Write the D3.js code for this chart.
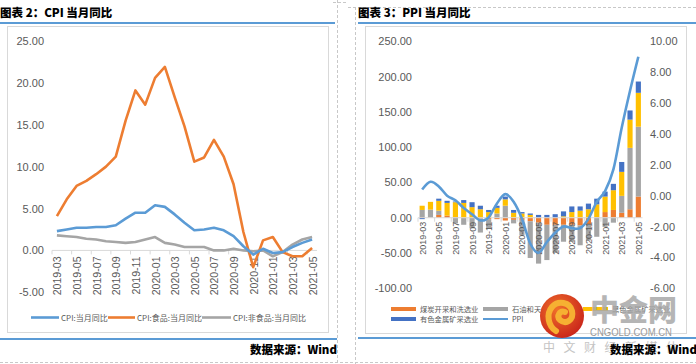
<!DOCTYPE html>
<html><head><meta charset="utf-8">
<script src="https://cdn.jsdelivr.net/npm/d3@7"></script>
<style>
body{margin:0;background:#fff;}
svg{display:block;}
</style></head><body>
<svg id="c" width="696" height="364"></svg>
<script>
// ---------- DATA ----------
const months = ["2019-03","2019-04","2019-05","2019-06","2019-07","2019-08","2019-09","2019-10","2019-11","2019-12",
  "2020-01","2020-02","2020-03","2020-04","2020-05","2020-06","2020-07","2020-08","2020-09","2020-10","2020-11","2020-12",
  "2021-01","2021-02","2021-03","2021-04","2021-05"];
const monthLabels = ["2019-03","2019-05","2019-07","2019-09","2019-11","2020-01","2020-03","2020-05","2020-07","2020-09","2020-11","2021-01","2021-03","2021-05"];
const cpiAll     = [2.3,2.5,2.7,2.7,2.8,2.8,3.0,3.8,4.5,4.5,5.4,5.2,4.3,3.3,2.4,2.5,2.7,2.4,1.7,0.5,-0.5,0.2,-0.3,-0.2,0.4,0.9,1.3];
const cpiFood    = [4.1,6.1,7.7,8.3,9.1,10.0,11.2,15.5,19.1,17.4,20.6,21.9,18.3,14.8,10.6,11.1,13.2,11.2,7.9,2.2,-2.0,1.2,1.6,-0.2,-0.7,-0.7,0.3];
const cpiNonFood = [1.8,1.7,1.6,1.4,1.3,1.1,1.0,0.9,1.0,1.3,1.6,0.9,0.7,0.4,0.4,0.4,0.0,0.0,0.2,0.0,-0.1,0.0,-0.7,-0.2,0.7,1.3,1.6];
const cpiTicks = [-5,0,5,10,15,20,25];
const cpiNames = ["CPI:当月同比","CPI:食品:当月同比","CPI:非食品:当月同比"];

const ppi        = [0.4,0.9,0.6,0.0,-0.3,-0.8,-1.2,-1.6,-1.4,-0.5,0.1,-0.4,-1.5,-3.1,-3.7,-3.0,-2.4,-2.0,-2.1,-2.1,-1.5,-0.4,0.3,1.7,4.4,6.8,9.0];
const coal       = [1,0.5,4,3,1,0,0,-1,-2,-2,-4,-3,-3,-5,-7,-10,-10,-10,-10,-11,-9,1,8,11,7,12,30];
const oilGas     = [10,11,6,0,-8,-10,-15,-20,-14,6,17,-5,-22,-52,-58,-50,-40,-24,-24,-28,-23,-27,-13,-7,24,87,99];
const ferrous    = [6,11,14,18,21,21,15,12,8,8,9,7,6,4,0,0,0,2,8,10,12,18,22,28,34,40,48];
const nonferrous = [-2,0,3,3,1,4,7,5,3,3,4,4,2,2,4,4,5,7,8,6,8,8,7,9,14,13,16];
const ppiLeftTicks  = [-100,-50,0,50,100,150,200,250];
const ppiRightTicks = [-6,-4,-2,0,2,4,6,8,10];
const ppiNames = ["煤炭开采和洗选业","石油和天然气开采业","黑色金属矿采选业","有色金属矿采选业","PPI"];

// ---------- STYLE ----------
const C_BLUE="#5B9BD5", C_ORANGE="#ED7D31", C_GRAY="#A5A5A5", C_YELLOW="#FFC000", C_DBLUE="#4472C4";
const TXT="#595959", AX="#D9D9D9";
const tickFont="'Liberation Sans', Arial, sans-serif";
const cjk="'Noto Sans CJK SC', sans-serif";
const fmt = d => d.toFixed(2);

const svg = d3.select("#c");

// page frame: dashed cell borders
const dash = svg.append("g").attr("stroke","#c8c8c8").attr("stroke-dasharray","3,2").attr("stroke-width",1);
dash.append("line").attr("x1",333).attr("x2",348).attr("y1",2.5).attr("y2",2.5);
dash.append("line").attr("x1",348).attr("x2",696).attr("y1",7.5).attr("y2",7.5);
dash.append("line").attr("x1",337.5).attr("x2",337.5).attr("y1",0).attr("y2",364);
dash.append("line").attr("x1",355.5).attr("x2",355.5).attr("y1",7).attr("y2",364);
dash.append("line").attr("x1",0).attr("x2",696).attr("y1",362.5).attr("y2",362.5);

// titles & blue rules
function header(x, x2, title){
  svg.append("text").attr("x",x).attr("y",17).attr("font-family",cjk).attr("font-weight",900)
    .attr("font-size",11.5).attr("fill","#000").text(title);
  svg.append("line").attr("x1",x).attr("x2",x2).attr("y1",23).attr("y2",23)
    .attr("stroke",C_BLUE).attr("stroke-width",2);
}
header(0,335,"图表 2：CPI 当月同比");
header(358,696,"图表 3：PPI 当月同比");
svg.append("line").attr("x1",0).attr("x2",337).attr("y1",339).attr("y2",339).attr("stroke",C_BLUE).attr("stroke-width",2);
svg.append("line").attr("x1",358).attr("x2",696).attr("y1",338).attr("y2",338).attr("stroke",C_BLUE).attr("stroke-width",2);

// chart boxes
svg.append("rect").attr("x",7.5).attr("y",26.5).attr("width",321).attr("height",306).attr("fill","none").attr("stroke",AX);
svg.append("rect").attr("x",365.5).attr("y",26.5).attr("width",321).attr("height",307).attr("fill","none").attr("stroke",AX);

// ---------- LEFT: CPI ----------
{
  const x = d3.scaleBand().domain(months).range([52,317]).paddingInner(0).paddingOuter(0);
  const y = d3.scaleLinear().domain([-5,25]).range([292.3,41]);
  const g = svg.append("g");
  const ya = g.append("g").attr("transform","translate(44,0)")
    .call(d3.axisLeft(y).tickValues(cpiTicks).tickFormat(fmt).tickSize(0).tickPadding(0));
  ya.select(".domain").remove();
  ya.selectAll("text").attr("font-family",tickFont).attr("font-size",11).attr("fill",TXT);
  g.append("line").attr("x1",x.range()[0]).attr("x2",x.range()[1]).attr("y1",y(0)).attr("y2",y(0)).attr("stroke",AX).attr("stroke-width",1);
  const tickIdx = d3.range(0, months.length+1, 2);
  g.selectAll(".tk").data(tickIdx).join("line")
    .attr("x1",i=>x.range()[0]+i*x.step()).attr("x2",i=>x.range()[0]+i*x.step())
    .attr("y1",y(0)).attr("y2",y(0)+4).attr("stroke",AX);
  g.selectAll(".xl").data(monthLabels).join("text")
    .attr("transform",d=>`translate(${x(d)+x.bandwidth()/2+0.5},${y(0)+6}) rotate(-90)`)
    .attr("text-anchor","end").attr("dominant-baseline","central")
    .attr("font-family",tickFont).attr("font-size",10.6).attr("fill",TXT).text(d=>d);
  const series = [[cpiAll,C_BLUE],[cpiFood,C_ORANGE],[cpiNonFood,C_GRAY]];
  const line = d3.line().x((d,i)=>x(months[i])+x.bandwidth()/2).y(d=>y(d));
  series.slice().reverse().forEach(([vals,col])=>{
    g.append("path").datum(vals).attr("d",line).attr("fill","none").attr("stroke",col)
      .attr("stroke-width",2.6).attr("stroke-linejoin","round");
  });
  const lg = [[31,59,61],[108,135,137],[202,231,233]];
  lg.forEach((p,i)=>{
    g.append("line").attr("x1",p[0]).attr("x2",p[1]).attr("y1",317.5).attr("y2",317.5)
      .attr("stroke",series[i][1]).attr("stroke-width",2.6);
    g.append("text").attr("x",p[2]).attr("y",317.5).attr("dominant-baseline","central")
      .attr("font-family",cjk).attr("font-size",8).attr("fill",TXT).text(cpiNames[i]);
  });
  svg.append("text").attr("x",337).attr("y",354).attr("text-anchor","end").attr("font-family",cjk)
    .attr("font-weight",900).attr("font-size",11.5).attr("fill","#000").text("数据来源：Wind");
}

// ---------- RIGHT: PPI ----------
{
  const x = d3.scaleBand().domain(months).range([418,642.5]).paddingInner(0).paddingOuter(0);
  const yL = d3.scaleLinear().domain([-100,250]).range([288.3,41.3]);
  const yR = d3.scaleLinear().domain([-6,10]).range([288.3,41.3]);
  const g = svg.append("g");
  const ya = g.append("g").attr("transform","translate(412,0)")
    .call(d3.axisLeft(yL).tickValues(ppiLeftTicks).tickFormat(fmt).tickSize(0).tickPadding(0));
  ya.select(".domain").remove();
  ya.selectAll("text").attr("font-family",tickFont).attr("font-size",11).attr("fill",TXT);
  const yb = g.append("g").attr("transform","translate(650,0)")
    .call(d3.axisRight(yR).tickValues(ppiRightTicks).tickFormat(fmt).tickSize(0).tickPadding(0));
  yb.select(".domain").remove();
  yb.selectAll("text").attr("font-family",tickFont).attr("font-size",11).attr("fill",TXT);

  const rows = months.map((m,i)=>({m, coal:coal[i], oil:oilGas[i], fer:ferrous[i], non:nonferrous[i]}));
  const keys = ["coal","oil","fer","non"];
  const cols = [C_ORANGE,C_GRAY,C_YELLOW,C_DBLUE];
  const stack = d3.stack().keys(keys).offset(d3.stackOffsetDiverging)(rows);
  const bw = x.step()*0.62;
  stack.forEach((s,k)=>{
    g.append("g").attr("fill",cols[k]).selectAll("rect").data(s).join("rect")
      .attr("x",d=>x(d.data.m)+x.bandwidth()/2-bw/2).attr("width",bw)
      .attr("y",d=>yL(Math.max(d[0],d[1]))).attr("height",d=>Math.abs(yL(d[0])-yL(d[1])));
  });
  g.append("line").attr("x1",x.range()[0]).attr("x2",x.range()[1]).attr("y1",yL(0)).attr("y2",yL(0)).attr("stroke",AX);
  const tickIdx = d3.range(0, months.length+1, 2);
  g.selectAll(".tk").data(tickIdx).join("line")
    .attr("x1",i=>x.range()[0]+i*x.step()).attr("x2",i=>x.range()[0]+i*x.step())
    .attr("y1",yL(0)).attr("y2",yL(0)+4).attr("stroke",AX);
  g.selectAll(".xl").data(monthLabels).join("text")
    .attr("transform",d=>`translate(${x(d)+x.bandwidth()/2+0.5},${yL(0)+4}) rotate(-90)`)
    .attr("text-anchor","end").attr("dominant-baseline","central")
    .attr("font-family",tickFont).attr("font-size",9).attr("fill",TXT).text(d=>d);
  const line = d3.line().curve(d3.curveCardinal.tension(0)).x((d,i)=>x(months[i])+x.bandwidth()/2).y(d=>yR(d));
  g.append("path").datum(ppi).attr("d",line).attr("fill","none").attr("stroke",C_BLUE)
    .attr("stroke-width",2.6).attr("stroke-linejoin","round");

  const items = [
    {x:391,y:309,c:C_ORANGE,t:ppiNames[0],bar:true},
    {x:483,y:309,c:C_GRAY,t:ppiNames[1],bar:true},
    {x:583,y:309,c:C_YELLOW,t:ppiNames[2],bar:true},
    {x:391,y:319,c:C_DBLUE,t:ppiNames[3],bar:true},
    {x:483,y:319,c:C_BLUE,t:ppiNames[4],bar:false}];
  items.forEach(it=>{
    if(it.bar) g.append("rect").attr("x",it.x).attr("y",it.y-2).attr("width",25).attr("height",4).attr("fill",it.c);
    else g.append("line").attr("x1",it.x).attr("x2",it.x+25).attr("y1",it.y).attr("y2",it.y).attr("stroke",it.c).attr("stroke-width",2);
    g.append("text").attr("x",it.x+29).attr("y",it.y).attr("dominant-baseline","central")
      .attr("font-family",cjk).attr("font-size",7.3).attr("fill",TXT).text(it.t);
  });

  // watermark
  const defs = svg.append("defs");
  const rg = defs.append("radialGradient").attr("id","lg").attr("cx","40%").attr("cy","35%").attr("r","70%");
  rg.append("stop").attr("offset","0%").attr("stop-color","#f0702a");
  rg.append("stop").attr("offset","100%").attr("stop-color","#c8231a");
  const wm = svg.append("g");
  wm.append("circle").attr("cx",562).attr("cy",316).attr("r",22).attr("fill","url(#lg)");
  wm.append("path").attr("d","M556,331 C548,326 546,314 552,307 C558,300 570,302 572,311 C574,320 566,325 560,320 C556,316 560,310 565,312")
    .attr("fill","none").attr("stroke","#f6b032").attr("stroke-width",6).attr("stroke-linecap","round");
  wm.append("text").attr("x",590).attr("y",321).attr("font-family",cjk).attr("font-weight",900)
    .attr("font-size",29).attr("fill","#a9a9a9").attr("opacity",0.85).text("中金网");
  wm.append("text").attr("x",590).attr("y",336).attr("font-family",tickFont)
    .attr("font-size",11).attr("fill","#9a9a9a").attr("textLength",82).attr("lengthAdjust","spacingAndGlyphs").text("CNGOLD.COM.CN");
  wm.append("text").attr("x",543).attr("y",352).attr("font-family",cjk)
    .attr("font-size",12).attr("fill","#c4c4c4").attr("textLength",135).attr("lengthAdjust","spacing").text("中文财经新媒体");

  svg.append("text").attr("x",697).attr("y",354).attr("text-anchor","end").attr("font-family",cjk)
    .attr("font-weight",900).attr("font-size",11.5).attr("fill","#000").text("数据来源：Wind");
}
</script>
</body></html>
